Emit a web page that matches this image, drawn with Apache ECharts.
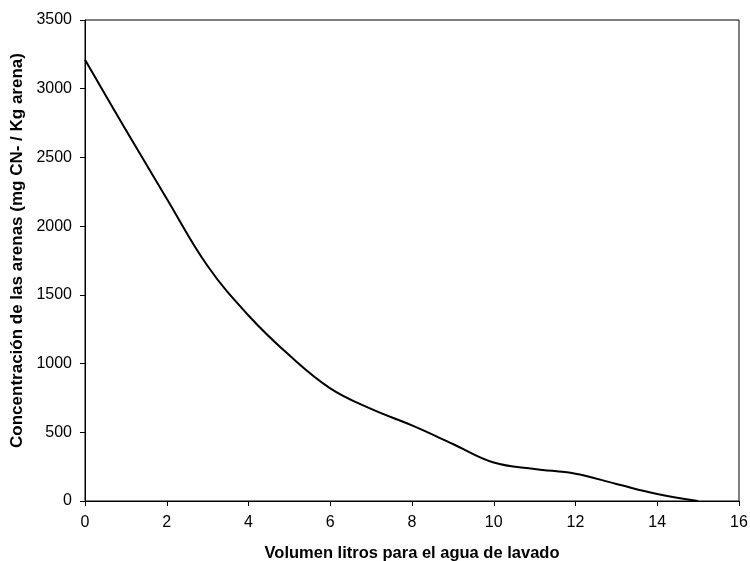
<!DOCTYPE html>
<html>
<head>
<meta charset="utf-8">
<script src="https://cdn.jsdelivr.net/npm/echarts@6/dist/echarts.min.js"></script>
<style>
  html, body { margin: 0; padding: 0; background: #fff; }
  #chart { width: 750px; height: 561px; }
</style>
</head>
<body>
<div id="chart"></div>
<script>
// volumen de agua de lavado (litros) y concentración en arenas
var volumen = [0, 1, 2, 3, 4, 5, 6, 7, 8, 9, 10, 11, 12, 13, 14, 15]
var concentracion = [3210, 2700, 2200, 1710, 1350, 1060, 820, 670, 550, 415, 280, 233, 198, 124, 51, 0]

var xTitulo = 'Volumen litros para el agua de lavado'
var yTitulo = 'Concentración de las arenas (mg CN- / Kg arena)'

var datos = volumen.map(function (v, i) { return [v, concentracion[i]] })

var myChart = echarts.init(document.getElementById('chart'))
var fuente = 'Liberation Sans, Arial, sans-serif'
var option = {
	animation: false,
	grid: {
		left: 85, right: 11, top: 20, bottom: 60,
		outerBoundsMode: 'none',
		show: true, borderColor: '#000', borderWidth: 1
	},
	xAxis: {
		type: 'value',
		min: 0, max: 16, interval: 2,
		name: xTitulo,
		nameLocation: 'middle',
		nameGap: 44,
		nameTextStyle: { fontFamily: fuente, fontSize: 16.5, fontWeight: 'bold', color: '#000' },
		axisLine: { lineStyle: { color: '#000', width: 1 } },
		axisTick: { length: 5, lineStyle: { color: '#000' } },
		axisLabel: { fontFamily: fuente, fontSize: 16, color: '#000', margin: 14 },
		splitLine: { show: false }
	},
	yAxis: {
		type: 'value',
		min: 0, max: 3500, interval: 500,
		name: yTitulo,
		nameLocation: 'middle',
		nameGap: 54,
		nameTextStyle: { fontFamily: fuente, fontSize: 17, fontWeight: 'bold', color: '#000', padding: [0, 0, 0, 20] },
		axisLine: { show: true, lineStyle: { color: '#000', width: 1 } },
		axisTick: { show: true, length: 5, lineStyle: { color: '#000' } },
		axisLabel: { fontFamily: fuente, fontSize: 16, color: '#000', margin: 13, formatter: function (v) { return String(v) } },
		splitLine: { show: false }
	},
	series: [
		{
			type: 'line',
			data: datos,
			smooth: 0.4,
			showSymbol: false,
			lineStyle: { color: '#000', width: 2 }
		}
	]
}
myChart.setOption(option)
</script>
</body>
</html>
